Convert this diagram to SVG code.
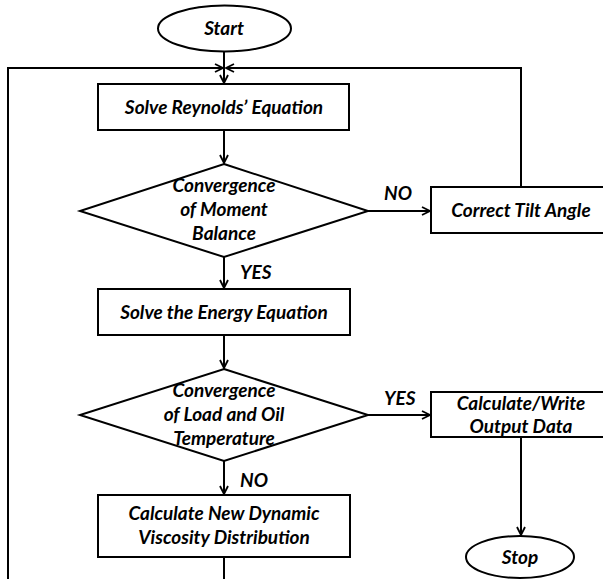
<svg xmlns="http://www.w3.org/2000/svg" width="603" height="579" viewBox="0 0 603 579">
<style>
.s{fill:#fff;stroke:#000;stroke-width:2}
.c{fill:none;stroke:#000;stroke-width:2}
text{font-family:Lato,"Liberation Sans",sans-serif;font-weight:bold;font-style:italic;font-size:19px;fill:#000}
.m{text-anchor:middle}
</style>
<defs>
<marker id="a" viewBox="0 0 10 10" refX="9" refY="5" markerWidth="10" markerHeight="10" markerUnits="userSpaceOnUse" orient="auto">
<path d="M1,1 L9,5 L1,9" fill="none" stroke="#000" stroke-width="1.8"/>
</marker>
</defs>
<rect width="603" height="579" fill="#fff"/>
<g id="connectors">
<path class="c" d="M224,52 V83" marker-end="url(#a)"/>
<path class="c" d="M8,579 V68 H223" marker-end="url(#a)"/>
<path class="c" d="M521,187 V68 H226" marker-end="url(#a)"/>
<path class="c" d="M224,130 V163" marker-end="url(#a)"/>
<path class="c" d="M368,211 H430" marker-end="url(#a)"/>
<path class="c" d="M224,257 V288" marker-end="url(#a)"/>
<path class="c" d="M224,335 V368" marker-end="url(#a)"/>
<path class="c" d="M368,415 H430" marker-end="url(#a)"/>
<path class="c" d="M224,461 V494" marker-end="url(#a)"/>
<path class="c" d="M224,557 V579"/>
<path class="c" d="M521,437 V535" marker-end="url(#a)"/>
<text x="240" y="279">YES</text>
<text x="384" y="200">NO</text>
<text x="384" y="405">YES</text>
<text x="240" y="487">NO</text>
</g>
<g id="start">
<ellipse class="s" cx="224.5" cy="28.5" rx="66.5" ry="23"/>
<text class="m" x="224" y="35">Start</text>
</g>
<g id="reynolds">
<rect class="s" x="98" y="84" width="251" height="46"/>
<text class="m" x="224" y="114">Solve Reynolds’ Equation</text>
</g>
<g id="moment">
<polygon class="s" points="224,164 368,211 224,257 80,211"/>
<text class="m" x="224" y="192">Convergence</text>
<text class="m" x="224" y="216">of Moment</text>
<text class="m" x="224" y="240">Balance</text>
</g>
<g id="tilt">
<rect class="s" x="431" y="187" width="180" height="46"/>
<text class="m" x="521" y="217">Correct Tilt Angle</text>
</g>
<g id="energy">
<rect class="s" x="98" y="289" width="252" height="46"/>
<text class="m" x="224" y="319">Solve the Energy Equation</text>
</g>
<g id="load">
<polygon class="s" points="224,369 368,415 224,461 80,415"/>
<text class="m" x="224" y="397">Convergence</text>
<text class="m" x="224" y="421">of Load and Oil</text>
<text class="m" x="224" y="445">Temperature</text>
</g>
<g id="output">
<rect class="s" x="431" y="392" width="180" height="45"/>
<text class="m" x="521" y="410">Calculate/Write</text>
<text class="m" x="521" y="433">Output Data</text>
</g>
<g id="viscosity">
<rect class="s" x="98" y="495" width="252" height="62"/>
<text class="m" x="224" y="520">Calculate New Dynamic</text>
<text class="m" x="224" y="544">Viscosity Distribution</text>
</g>
<g id="stop">
<ellipse class="s" cx="520" cy="557" rx="54" ry="21"/>
<text class="m" x="520" y="564">Stop</text>
</g>
</svg>
